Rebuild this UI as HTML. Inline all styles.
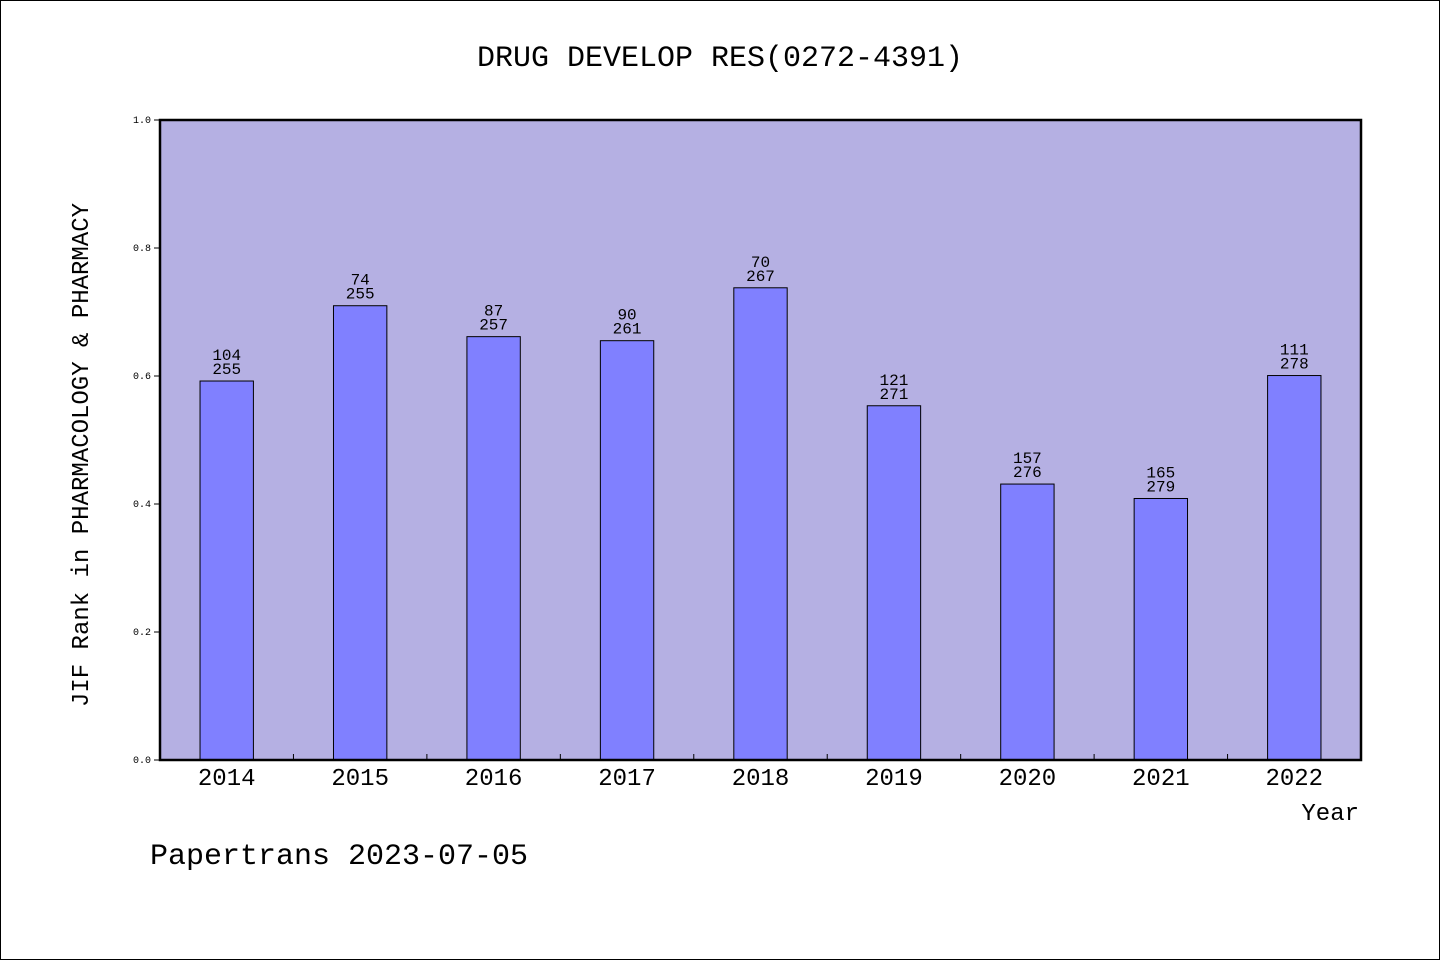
<!DOCTYPE html>
<html><head><meta charset="utf-8">
<style>
html,body{margin:0;padding:0;background:#fff;}
svg{display:block;font-family:"WenQuanYi Zen Hei","Liberation Mono",monospace;}
</style></head>
<body>
<svg id="chart" width="1440" height="960" viewBox="0 0 1440 960">
<rect x="0.5" y="0.5" width="1439" height="959" fill="#fff" stroke="#000"/>
<text x="720" y="66" text-anchor="middle" font-size="30">DRUG DEVELOP RES(0272-4391)</text>
<rect x="160" y="120" width="1201" height="640" fill="#b5b0e3"/>
<g id="bars"></g>
<g id="yticks"></g>
<g id="xticks"></g>
<rect x="160" y="120" width="1201" height="640" fill="none" stroke="#000" stroke-width="2.5"/>
<text transform="translate(88,455) rotate(-90)" text-anchor="middle" font-size="24">JIF Rank in PHARMACOLOGY &amp; PHARMACY</text>
<text x="1359" y="820" text-anchor="end" font-size="24">Year</text>
<text x="150" y="864" font-size="30">Papertrans 2023-07-05</text>
</svg>
<script>
const years=["2014","2015","2016","2017","2018","2019","2020","2021","2022"];
const ranks=[104,74,87,90,70,121,157,165,111];
const totals=[255,255,257,261,267,271,276,279,278];
const yTicks=[0.0,0.2,0.4,0.6,0.8,1.0];
const NS="http://www.w3.org/2000/svg";
const X0=160,X1=1361,Y0=760,Y1=120;
const band=(X1-X0)/years.length;
const xc=i=>X0+band*(i+0.5);
const y=v=>Y0-(Y0-Y1)*v;
function mk(t,a,p){const e=document.createElementNS(NS,t);for(const k in a)e.setAttribute(k,a[k]);p.appendChild(e);return e;}
const gb=document.getElementById('bars'),gy=document.getElementById('yticks'),gx=document.getElementById('xticks');
years.forEach((yr,i)=>{
  const v=1-ranks[i]/totals[i];
  const w=band*0.4;
  const r=mk('rect',{x:xc(i)-w/2,y:y(v),width:w,height:Y0-y(v),fill:'#8080ff',stroke:'#000','stroke-width':1},gb);
  
  
  const t1=mk('text',{x:xc(i),y:y(v)-21,'text-anchor':'middle','font-size':16},gb);
  t1.textContent=ranks[i];
  
  
  const t2=mk('text',{x:xc(i),y:y(v)-7,'text-anchor':'middle','font-size':16},gb);
  t2.textContent=totals[i];
  
  
  const xl=mk('text',{x:xc(i),y:785,'text-anchor':'middle','font-size':24},gx);
  xl.textContent=yr;
  
  
  if(i>0){const tk=mk('line',{x1:X0+band*i,x2:X0+band*i,y1:Y0,y2:Y0-6,stroke:'#000'},gx);
  
  }
});
yTicks.forEach(v=>{
  const l=mk('line',{x1:X0-6,x2:X0,y1:y(v),y2:y(v),stroke:'#000'},gy);
  
  
  const t=mk('text',{x:X0-9,y:y(v)+3,'text-anchor':'end','font-size':10},gy);
  t.textContent=v.toFixed(1);
  
  
});
</script>
</body></html>
